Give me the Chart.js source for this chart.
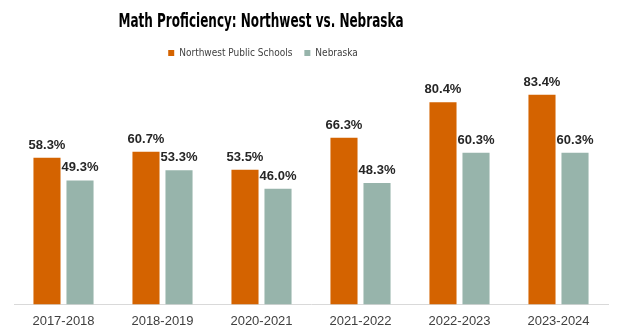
<!DOCTYPE html>
<html>
<head>
<meta charset="utf-8">
<script src="https://cdn.jsdelivr.net/npm/chart.js@4/dist/chart.umd.min.js"></script>
<style>
  html, body { margin: 0; padding: 0; background: #fff; }
  #wrap { width: 624px; height: 336px; position: relative; }
</style>
</head>
<body>
<div id="wrap"><canvas id="chartMath"></canvas></div>
<script>
(function () {
    'use strict';

    var years = ['2017-2018', '2018-2019', '2020-2021', '2021-2022', '2022-2023', '2023-2024'];
    var northwest = [58.3, 60.7, 53.5, 66.3, 80.4, 83.4];
    var nebraska = [49.3, 53.3, 46.0, 48.3, 60.3, 60.3];

    var orange = '#D46300';
    var teal = '#97B4AB';
    var titleText = 'Math Proficiency: Northwest vs. Nebraska';
    var headCenter = 261;

    // title, squeezed to look like a condensed face
    var condensedTitle = {
        id: 'condensedTitle',
        afterDraw: function (chart) {
            var ctx = chart.ctx;
            ctx.save();
            ctx.font = 'bold 20px "DejaVu Sans Condensed", "Liberation Sans", sans-serif';
            var w = ctx.measureText(titleText).width;
            var sx = 285 / w;
            ctx.translate(headCenter, 22);
            ctx.scale(sx, 1);
            ctx.fillStyle = '#000';
            ctx.textAlign = 'center';
            ctx.textBaseline = 'middle';
            ctx.fillText(titleText, 0, 0);
            ctx.restore();
        }
    };

    // move the legend so it sits under the title, not over the plot centre
    var shiftLegend = {
        id: 'shiftLegend',
        afterLayout: function (chart) {
            var lg = chart.legend;
            var mid = (lg.left + lg.right) / 2;
            var dx = headCenter + 2 - mid;
            lg.left += dx;
            lg.right += dx;
        }
    };

    // draws the value above each bar
    var valueLabels = {
        id: 'valueLabels',
        afterDatasetsDraw: function (chart) {
            var ctx = chart.ctx;
            ctx.save();
            ctx.font = 'bold 13px "Liberation Sans", Arial, sans-serif';
            ctx.fillStyle = '#262626';
            ctx.textAlign = 'center';
            ctx.textBaseline = 'bottom';
            chart.data.datasets.forEach(function (ds, i) {
                chart.getDatasetMeta(i).data.forEach(function (bar, j) {
                    ctx.fillText(ds.data[j].toFixed(1) + '%', bar.x, bar.y - 6);
                });
            });
            ctx.restore();
        }
    };

    new Chart(document.getElementById('chartMath'), {
        type: 'bar',
        data: {
            labels: years,
            datasets: [
                { label: 'Northwest Public Schools', data: northwest, backgroundColor: orange },
                { label: 'Nebraska', data: nebraska, backgroundColor: teal }
            ]
        },
        options: {
            responsive: true,
            maintainAspectRatio: false,
            animation: false,
            layout: { padding: { left: 14, right: 16, top: 36, bottom: 6 } },
            datasets: { bar: { categoryPercentage: 0.667, barPercentage: 0.82 } },
            plugins: {
                title: { display: false },
                legend: {
                    labels: {
                        color: '#404040',
                        boxWidth: 6,
                        boxHeight: 6,
                        padding: 12,
                        font: { family: '"DejaVu Sans Condensed", "Liberation Sans", sans-serif', size: 10 }
                    }
                },
                tooltip: { enabled: false }
            },
            scales: {
                x: {
                    grid: { display: false },
                    border: { color: '#D9D9D9', width: 1 },
                    ticks: { color: '#404040', font: { family: '"Liberation Sans", Arial, sans-serif', size: 13 }, padding: 1 }
                },
                y: {
                    display: false,
                    min: 0,
                    max: 94
                }
            }
        },
        plugins: [shiftLegend, valueLabels, condensedTitle]
    });
})();
</script>
</body>
</html>
